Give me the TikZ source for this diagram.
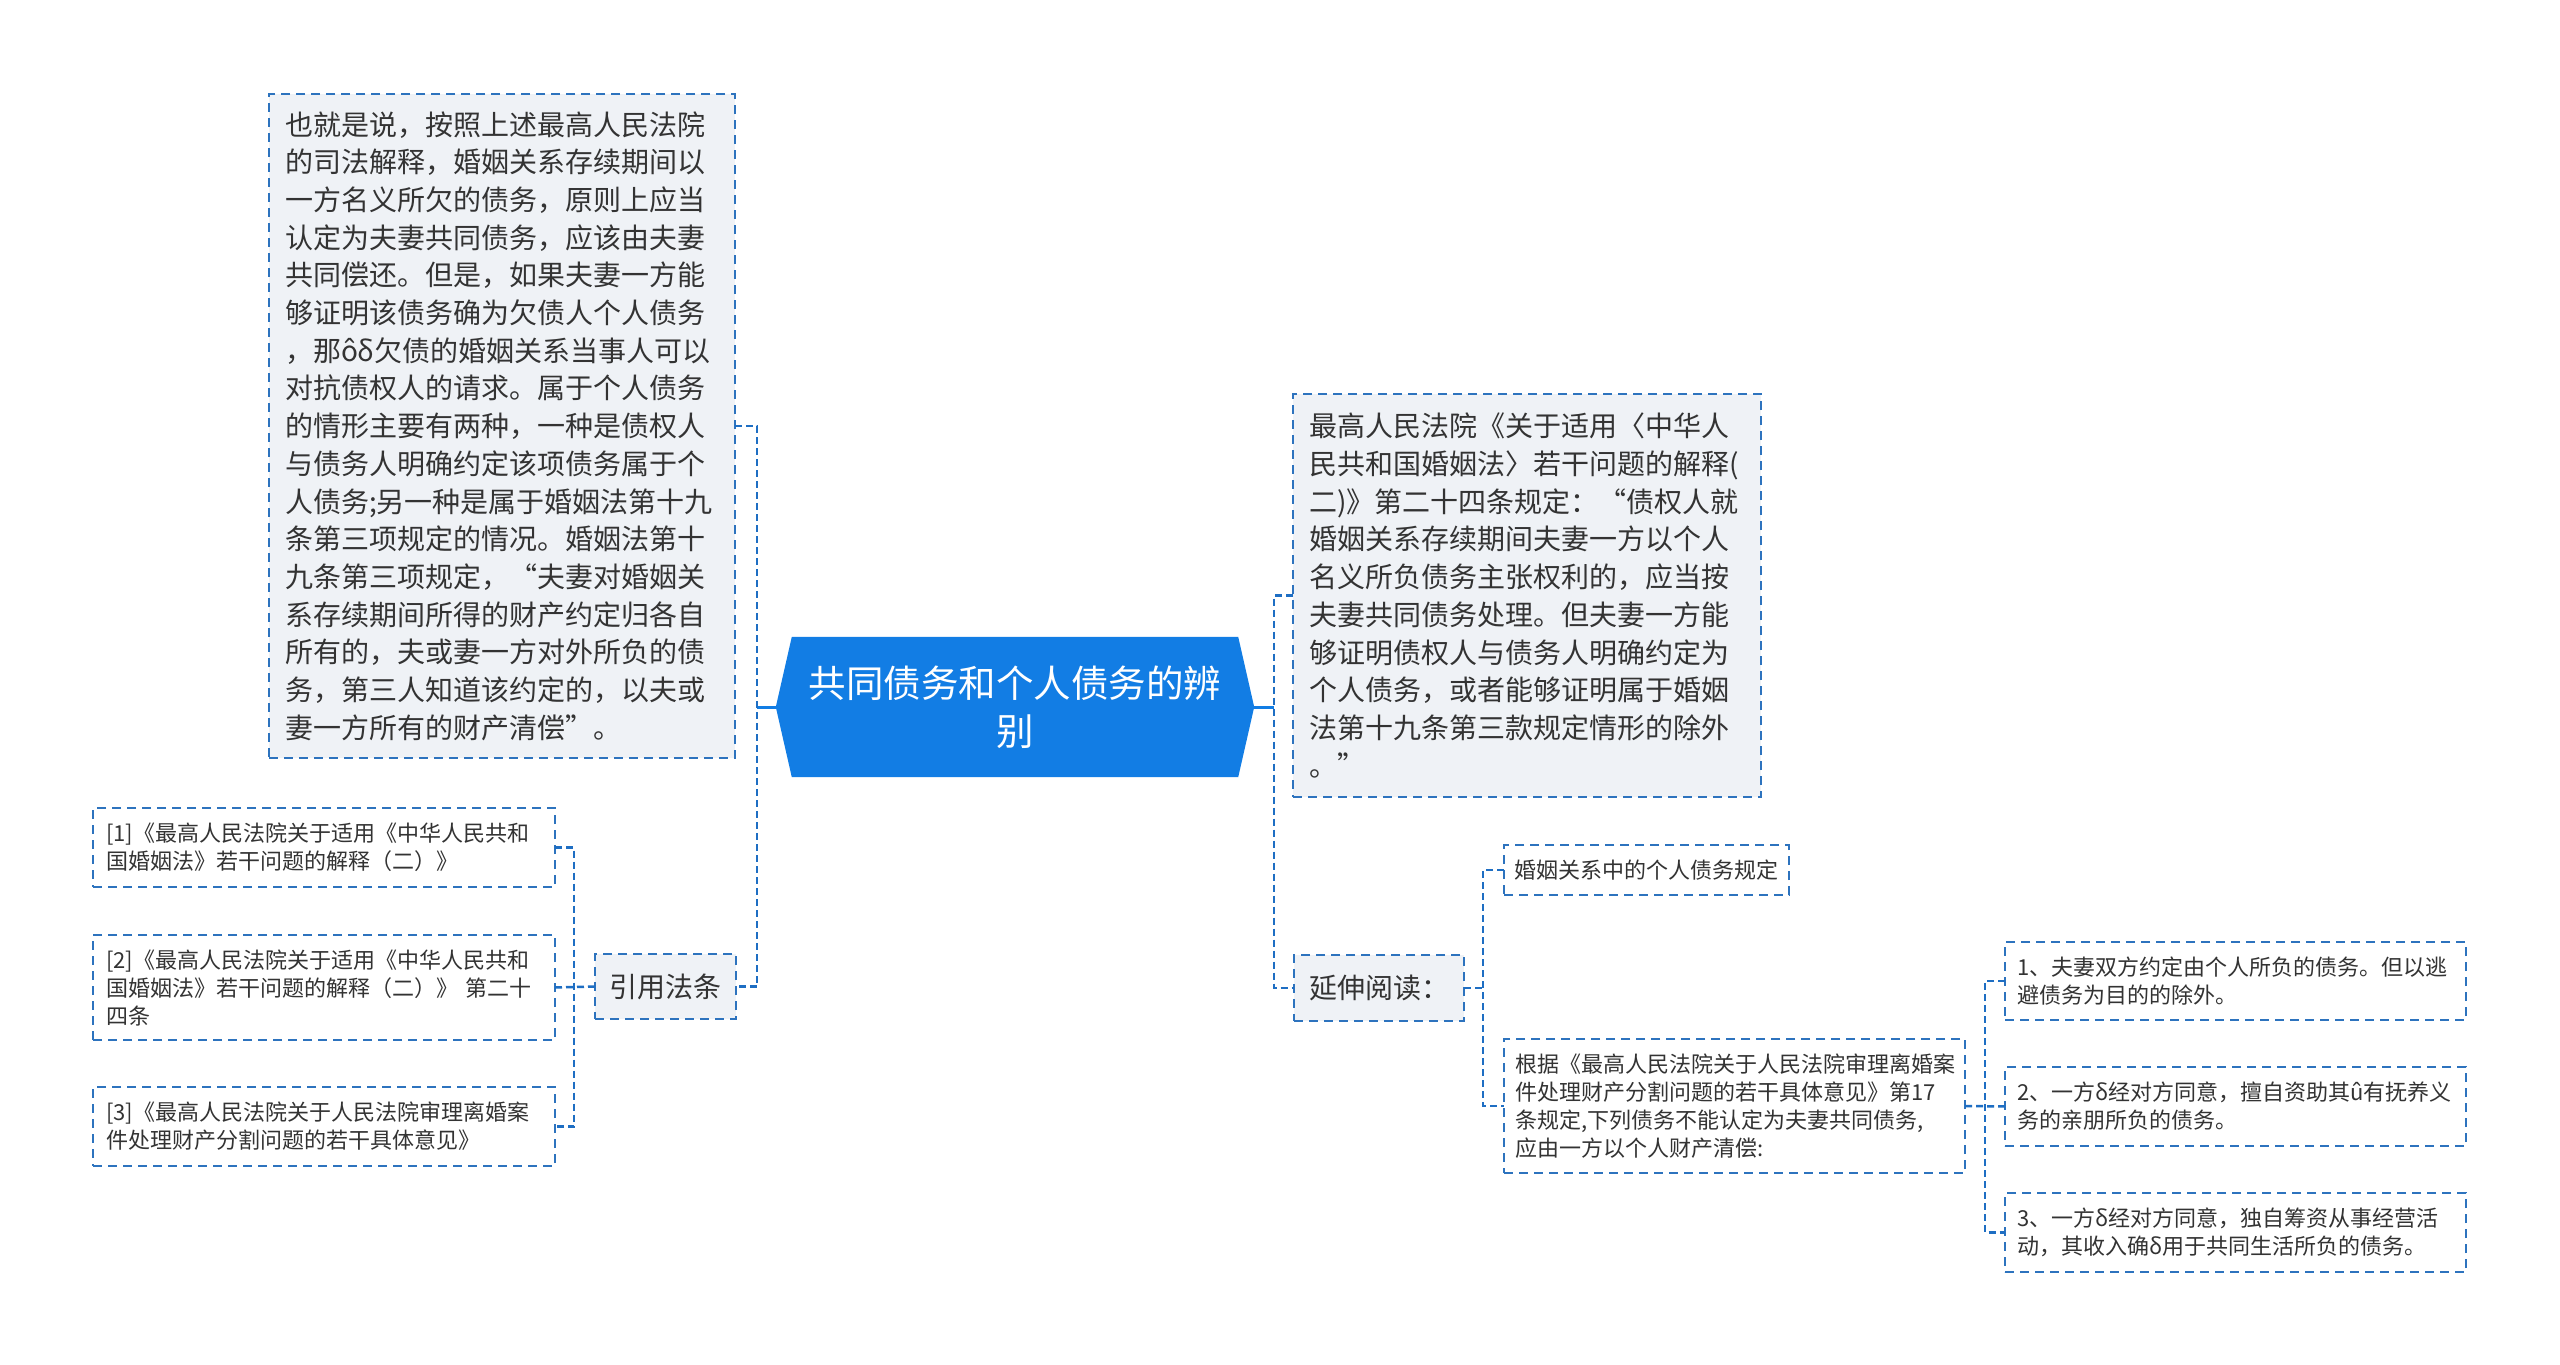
\documentclass[tikz,border=0pt]{standalone}
\usepackage{fontspec}
\setmainfont{Noto Sans CJK SC}
\definecolor{rootblue}{RGB}{18,125,228}
\definecolor{linecol}{RGB}{30,110,195}
\definecolor{boxcol}{RGB}{45,115,190}
\definecolor{boxfill}{RGB}{239,242,246}
\definecolor{txt}{RGB}{51,51,51}
\pgfdeclarelayer{bg}
\pgfsetlayers{bg,main}
\tikzset{
  bx/.style={draw=boxcol, line width=2pt, dash pattern=on 9pt off 6pt, text=txt, inner ysep=0pt, outer sep=0pt},
  bigbox/.style={bx, fill=boxfill, font=\fontsize{28}{37.7}\selectfont, align=left, inner xsep=16pt},
  smallbox/.style={bx, fill=white, font=\fontsize{22}{28}\selectfont, align=left},
  midbox/.style={bx, fill=boxfill, font=\fontsize{28}{34}\selectfont, align=center, inner xsep=0pt},
  conn/.style={draw=linecol, line width=2.5pt, dash pattern=on 7pt off 4pt},
  rootconn/.style={draw=rootblue, line width=3pt},
}
\begin{document}
\begin{tikzpicture}[x=1pt,y=-1pt]
\begin{pgfonlayer}{bg}
\fill[white] (0,0) rectangle (2560,1365);
\end{pgfonlayer}
\useasboundingbox (0,0) rectangle (2560,1365);

% root
\node[font=\fontsize{37.5}{48}\selectfont, text=white, align=center, minimum width=478pt, minimum height=140pt, inner sep=0pt] (root) at (1015,707) {共同债务和个人债务的辨\\别};
\begin{pgfonlayer}{bg}
\fill[rootblue] (root.west) -- ([xshift=16pt]root.north west) -- ([xshift=-16pt]root.north east) -- (root.east) -- ([xshift=-16pt]root.south east) -- ([xshift=16pt]root.south west) -- cycle;
\end{pgfonlayer}

% left side
\node[bigbox, text width=434pt, minimum height=664pt] (bigL) at (502,426) {也就是说，按照上述最高人民法院\\的司法解释，婚姻关系存续期间以\\一方名义所欠的债务，原则上应当\\认定为夫妻共同债务，应该由夫妻\\共同偿还。但是，如果夫妻一方能\\够证明该债务确为欠债人个人债务\\，那ôδ欠债的婚姻关系当事人可以\\对抗债权人的请求。属于个人债务\\的情形主要有两种，一种是债权人\\与债务人明确约定该项债务属于个\\人债务;另一种是属于婚姻法第十九\\条第三项规定的情况。婚姻法第十\\九条第三项规定，“夫妻对婚姻关\\系存续期间所得的财产约定归各自\\所有的，夫或妻一方对外所负的债\\务，第三人知道该约定的，以夫或\\妻一方所有的财产清偿”。};

\node[midbox, minimum width=141pt, minimum height=65pt] (cite) at (665.5,986.5) {引用法条};

\node[smallbox, inner xsep=13pt, text width=436pt, minimum height=79pt] (r1) at (324,847.5) {[1]《最高人民法院关于适用《中华人民共和\\国婚姻法》若干问题的解释（二）》};
\node[smallbox, inner xsep=13pt, text width=436pt, minimum height=105pt] (r2) at (324,987.5) {[2]《最高人民法院关于适用《中华人民共和\\国婚姻法》若干问题的解释（二）》 第二十\\四条};
\node[smallbox, inner xsep=13pt, text width=436pt, minimum height=79pt] (r3) at (324,1126.5) {[3]《最高人民法院关于人民法院审理离婚案\\件处理财产分割问题的若干具体意见》};

% right side
\node[bigbox, text width=436pt, minimum height=403pt] (bigR) at (1527,595.5) {最高人民法院《关于适用〈中华人\\民共和国婚姻法〉若干问题的解释(\\二)》第二十四条规定：“债权人就\\婚姻关系存续期间夫妻一方以个人\\名义所负债务主张权利的，应当按\\夫妻共同债务处理。但夫妻一方能\\够证明债权人与债务人明确约定为\\个人债务，或者能够证明属于婚姻\\法第十九条第三款规定情形的除外\\。”};

\node[midbox, minimum width=170pt, minimum height=66pt] (ext) at (1379,988) {延伸阅读：};

\node[smallbox, align=center, inner xsep=0pt, minimum width=285pt, minimum height=50pt] (m1) at (1646.5,870) {婚姻关系中的个人债务规定};
\node[smallbox, inner xsep=11pt, text width=439pt, minimum height=134pt] (m2) at (1734.5,1106) {根据《最高人民法院关于人民法院审理离婚案\\件处理财产分割问题的若干具体意见》第17\\条规定,下列债务不能认定为夫妻共同债务,\\应由一方以个人财产清偿:};

\node[smallbox, inner xsep=12pt, text width=437pt, minimum height=78pt] (n1) at (2235.5,981) {1、夫妻双方约定由个人所负的债务。但以逃\\避债务为目的的除外。};
\node[smallbox, inner xsep=12pt, text width=437pt, minimum height=79pt] (n2) at (2235.5,1106.5) {2、一方δ经对方同意，擅自资助其û有抚养义\\务的亲朋所负的债务。};
\node[smallbox, inner xsep=12pt, text width=437pt, minimum height=79pt] (n3) at (2235.5,1232.5) {3、一方δ经对方同意，独自筹资从事经营活\\动，其收入确δ用于共同生活所负的债务。};

% junctions
\coordinate (jl) at (757,707);
\coordinate (jr) at (1274,707);
\coordinate (jc) at (574,987);
\coordinate (je) at (1483,988);
\coordinate (jm) at (1985,1106);

% connectors
\draw[rootconn] (root.west) -- (root.west -| jl);
\draw[rootconn] (root.east) -- (root.east -| jr);
\draw[conn] (bigL.east) -- (bigL.east -| jl) -- (cite.east -| jl) -- (cite.east);
\draw[conn] (bigR.west) -- (bigR.west -| jr) -- (ext.west -| jr) -- (ext.west);
\draw[conn] (r1.east) -- (r1.east -| jc) -- (r3.east -| jc) -- (r3.east);
\draw[conn] (r2.east) -- (cite.west);
\draw[conn] (m1.west) -- (m1.west -| je) -- (m2.west -| je) -- (m2.west);
\draw[conn] (ext.east) -- (ext.east -| je);
\draw[conn] (n1.west) -- (n1.west -| jm) -- (n3.west -| jm) -- (n3.west);
\draw[conn] (m2.east) -- (n2.west);
\end{tikzpicture}
\end{document}
